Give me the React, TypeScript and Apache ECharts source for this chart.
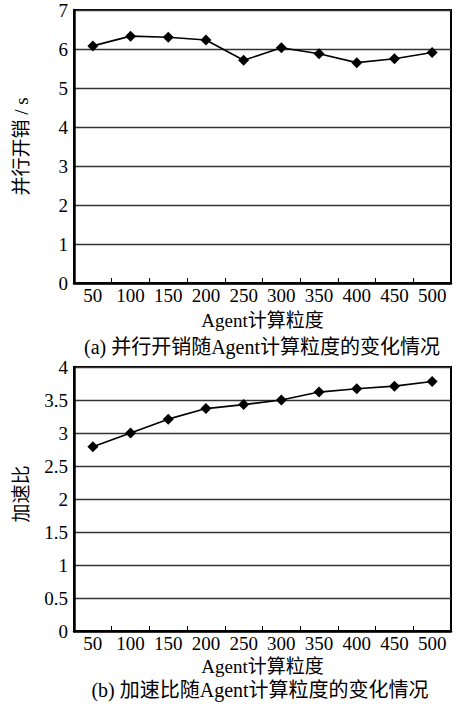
import React, { useEffect, useRef } from "react";
import * as echarts from "echarts";

const categories = ["50", "100", "150", "200", "250", "300", "350", "400", "450", "500"];
const overheadValues = [6.08, 6.33, 6.3, 6.23, 5.71, 6.03, 5.88, 5.65, 5.75, 5.91];
const speedupValues = [2.79, 3.0, 3.21, 3.37, 3.43, 3.5, 3.62, 3.67, 3.71, 3.78];
const captionA = "(a) 并行开销随Agent计算粒度的变化情况";
const captionB = "(b) 加速比随Agent计算粒度的变化情况";
const xName = "Agent计算粒度";
const yNameA = "并行开销 / s";
const yNameB = "加速比";

const FONT = "'Liberation Serif', 'Noto Sans CJK SC', serif";

export default function App() {
  const ref = useRef<HTMLDivElement>(null);
  useEffect(() => {
    document.body.style.margin = "0";
    const chart = echarts.init(ref.current!, undefined, { renderer: "svg" });
    const xAxisCommon = (gridIndex: number, gap: number) => ({
      type: "category",
      gridIndex,
      data: categories,
      boundaryGap: true,
      name: xName,
      nameLocation: "middle",
      nameGap: gap,
      nameTextStyle: { fontFamily: FONT, fontSize: 19, color: "#000" },
      axisLine: { lineStyle: { color: "#000", width: 2.5 } },
      axisTick: { show: true, inside: true, length: 5, lineStyle: { color: "#000", width: 1 } },
      axisLabel: { fontFamily: FONT, fontSize: 19, color: "#000", margin: 3, interval: 0 },
      splitLine: { show: false },
    });
    const yAxisCommon = (gridIndex: number, max: number, interval: number, name: string, pad: number[]) => ({
      type: "value",
      gridIndex,
      min: 0,
      max,
      interval,
      name,
      nameLocation: "middle",
      nameRotate: 90,
      nameGap: 43,
      nameTextStyle: { fontFamily: FONT, fontSize: 19, color: "#000", padding: pad },
      axisLine: { show: true, lineStyle: { color: "#000", width: 2.5 } },
      axisTick: { show: false },
      axisLabel: { fontFamily: FONT, fontSize: 19, color: "#000", margin: 6 },
      splitLine: { show: true, lineStyle: { color: "#333", width: 1.3 } },
    });
    const seriesCommon = {
      type: "line",
      symbol: "diamond",
      symbolSize: 11,
      itemStyle: { color: "#000" },
      lineStyle: { color: "#000", width: 1.6 },
    };
    chart.setOption({
      animation: false,
      backgroundColor: "#fff",
      title: [
        {
          text: captionA,
          left: 257,
          top: 332,
          textAlign: "center",
          textStyle: { fontFamily: FONT, fontSize: 20, fontWeight: "normal", color: "#000" },
        },
        {
          text: captionB,
          left: 255,
          top: 675,
          textAlign: "center",
          textStyle: { fontFamily: FONT, fontSize: 20, fontWeight: "normal", color: "#000" },
        },
      ],
      grid: [
        { left: 74, top: 10, width: 377, height: 273, show: true, borderColor: "#000", borderWidth: 2 },
        { left: 74, top: 367, width: 377, height: 264, show: true, borderColor: "#000", borderWidth: 2 },
      ],
      xAxis: [xAxisCommon(0, 28), xAxisCommon(1, 26)],
      yAxis: [
        yAxisCommon(0, 7, 1, yNameA, [0, 0, 0, 0]),
        yAxisCommon(1, 4, 0.5, yNameB, [0, 0, 0, 10]),
      ],
      series: [
        { ...seriesCommon, xAxisIndex: 0, yAxisIndex: 0, data: overheadValues },
        { ...seriesCommon, xAxisIndex: 1, yAxisIndex: 1, data: speedupValues },
      ],
    });
    return () => chart.dispose();
  }, []);
  return <div ref={ref} style={{ width: 460, height: 704 }} />;
}
